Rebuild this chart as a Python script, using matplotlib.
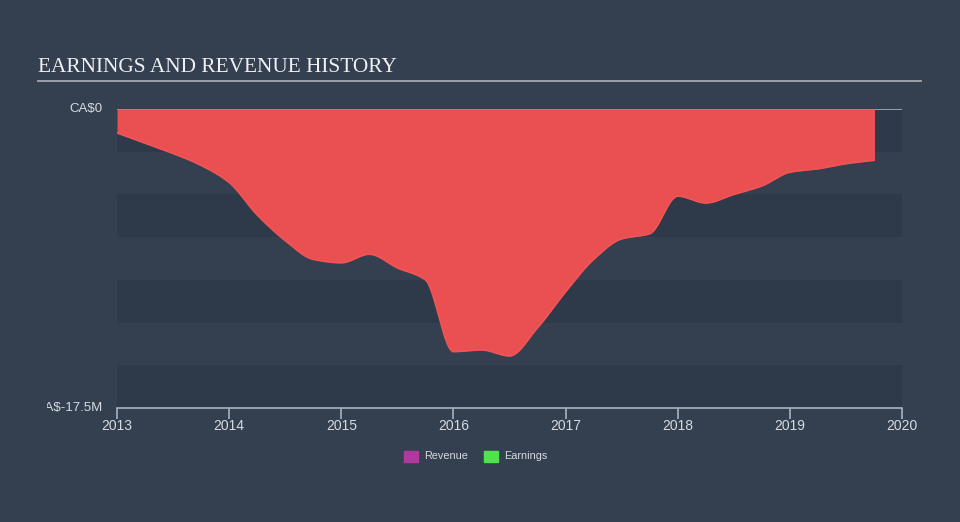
import numpy as np
import matplotlib
matplotlib.use("Agg")
import matplotlib.pyplot as plt
from matplotlib.patches import Rectangle

# quarterly earnings (CA$ millions)
years = [2013.0, 2013.25, 2013.5, 2013.75, 2014.0, 2014.25, 2014.5, 2014.75,
         2015.0, 2015.25, 2015.5, 2015.75, 2016.0, 2016.25, 2016.5, 2016.75,
         2017.0, 2017.25, 2017.5, 2017.75, 2018.0, 2018.25, 2018.5, 2018.75,
         2019.0, 2019.25, 2019.5, 2019.75]
earnings = [-1.4, -2.0, -2.6, -3.3, -4.3, -6.2, -7.7, -8.8,
            -9.0, -8.5, -9.3, -10.0, -14.2, -14.1, -14.45, -12.8,
            -10.7, -8.8, -7.6, -7.3, -5.1, -5.5, -5.0, -4.5,
            -3.7, -3.5, -3.2, -3.0]
x_ticks = [2013, 2014, 2015, 2016, 2017, 2018, 2019, 2020]
y_min, y_max = -17.5, 0.0
legend_names = ["Revenue", "Earnings"]
legend_colors = ["#b0399e", "#4fe24d"]

BG = "#344050"
BAND = "#2e3a49"
FILL = "#ea4f51"
AXIS = "#a9b3bf"
TEXT = "#d6dae0"


def pchip(x, y, xs):
    """monotone cubic curve through the points, just for drawing"""
    x = np.asarray(x, float)
    y = np.asarray(y, float)
    h = np.diff(x)
    d = np.diff(y) / h
    m = np.zeros_like(y)
    for i in range(1, len(y) - 1):
        if d[i - 1] * d[i] > 0:
            w1 = 2 * h[i] + h[i - 1]
            w2 = h[i] + 2 * h[i - 1]
            m[i] = (w1 + w2) / (w1 / d[i - 1] + w2 / d[i])
    m[0] = d[0]
    m[-1] = d[-1]
    idx = np.clip(np.searchsorted(x, xs) - 1, 0, len(x) - 2)
    t = (xs - x[idx]) / h[idx]
    h00 = 2 * t**3 - 3 * t**2 + 1
    h10 = t**3 - 2 * t**2 + t
    h01 = -2 * t**3 + 3 * t**2
    h11 = t**3 - t**2
    return h00 * y[idx] + h10 * h[idx] * m[idx] + h01 * y[idx + 1] + h11 * h[idx] * m[idx + 1]


fig = plt.figure(figsize=(9.6, 5.22), dpi=100)
fig.patch.set_facecolor(BG)

ax = fig.add_axes([117 / 960, 1 - 408 / 522, 785 / 960, 299 / 522])
ax.set_facecolor(BG)
ax.set_xlim(2013, 2020)
ax.set_ylim(y_min, y_max)

# alternating horizontal bands (darker ones start at the bottom)
step = 2.5
for i, lo in enumerate(np.arange(y_min, y_max, step)):
    if i % 2 == 0:
        ax.axhspan(lo, lo + step, color=BAND, lw=0, zorder=0)

ax.axhline(0, color=AXIS, lw=1.2, zorder=1)

xs = np.linspace(years[0], years[-1], 800)
ys = pchip(years, earnings, xs)
ax.fill_between(xs, ys, 0, color=FILL, lw=0, zorder=2)
ax.plot(xs, ys, color="#f25456", lw=1.2, zorder=3)
ax.plot([years[-1], years[-1]], [earnings[-1], 0], color="#f25456", lw=1.2, zorder=3)

for s in ["top", "right", "left"]:
    ax.spines[s].set_visible(False)
ax.spines["bottom"].set_color(AXIS)
ax.spines["bottom"].set_linewidth(1.2)
ax.set_yticks([])
ax.set_xticks(x_ticks)
ax.set_xticklabels([str(t) for t in x_ticks], fontsize=10, color=TEXT,
                   family="Liberation Sans")
ax.tick_params(axis="x", length=8, width=1.2, color=AXIS, pad=0)

# y labels, the lower one is cut off at the left like the reference
lab0 = fig.text(103 / 960, 1 - 109 / 522, "CA$0", ha="right", va="center",
                fontsize=9.5, color=TEXT, family="Liberation Sans")
lab1 = fig.text(103 / 960, 1 - 408 / 522, "CA$-17.5M", ha="right", va="center",
                fontsize=9.5, color=TEXT, family="Liberation Sans")
clip = Rectangle((47 / 960, 0), 1, 1, transform=fig.transFigure)
lab1.set_clip_path(clip)

# title and rule
fig.text(38 / 960, 1 - 68 / 522, "EARNINGS AND REVENUE HISTORY", ha="left",
         va="center", fontsize=15.3, color="#eef0f3", family="Liberation Serif")
fig.add_artist(plt.Line2D([38 / 960, 921 / 960], [1 - 81 / 522, 1 - 81 / 522],
                          color="#a3a9b1", lw=1.3, transform=fig.transFigure))

# legend
lx = [404, 484]
for name, col, x0 in zip(legend_names, legend_colors, lx):
    fig.add_artist(Rectangle((x0 / 960, 1 - 462 / 522), 14 / 960, 11 / 522,
                             color=col, transform=fig.transFigure))
    fig.text((x0 + 20) / 960, 1 - 456 / 522, name, ha="left", va="center",
             fontsize=7.8, color=TEXT, family="Liberation Sans")

fig.savefig("out.png", dpi=100, facecolor=BG)
